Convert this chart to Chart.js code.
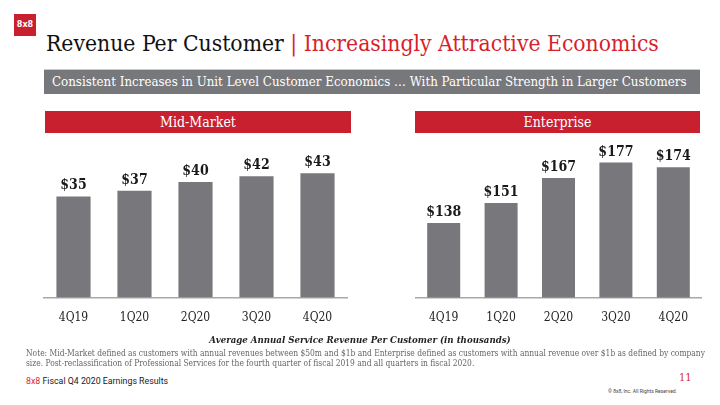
<!DOCTYPE html>
<html>
<head>
<meta charset="utf-8">
<style>
body {
	margin: 0;
	width: 720px;
	height: 405px;
	background: #fff;
	position: relative;
	overflow: hidden;
	font-family: "DejaVu Serif Condensed", "DejaVu Serif", serif;
}
.abs { position: absolute; }
.logo {
	left: 14px; top: 14px; width: 22px; height: 22px;
	background: #c8202f; color: #fff;
	font: bold 8px "DejaVu Sans", sans-serif;
	line-height: 22px; text-align: center;
}
.title {
	left: 46px; top: 30px; font-size: 22.7px; color: #111; white-space: nowrap;
}
.title span { color: #d71f2d; }
.bar-banner {
	left: 44px; top: 69px; width: 656px; height: 25px;
	background: #77787b; border-top: 1px solid #c8c8c8; box-sizing: border-box;
	color: #fff; font-size: 13.2px; line-height: 23px; padding-left: 8px; white-space: nowrap;
}
.red-banner {
	top: 111px; height: 22px; background: #c8202f; color: #fff;
	font-size: 14px; line-height: 22px; text-align: center;
}
.axis-title {
	left: 0; width: 720px; top: 334px; text-align: center;
	font-size: 9.6px; font-weight: bold; font-style: italic; color: #222;
}
.note {
	left: 26px; top: 348px; width: 692px; font-size: 8.4px; line-height: 10px; color: #666;
}
.footer {
	left: 26px; top: 376px; font: 8.8px "Roboto", sans-serif; color: #222;
}
.footer span { color: #d71f2d; }
.page { left: 679px; top: 371px; font-size: 11px; color: #d71f2d; }
.copy { left: 608px; top: 388px; font: 5px "Roboto", sans-serif; color: #444; }
</style>
<title>Revenue Per Customer</title>
<script src="https://cdn.jsdelivr.net/npm/chart.js@4.4.0/dist/chart.umd.min.js"></script>
</head>
<body>
	<div class="abs logo">8x8</div>
	<div class="abs title">Revenue Per Customer <span>| Increasingly Attractive Economics</span></div>
	<div class="abs bar-banner">Consistent Increases in Unit Level Customer Economics … With Particular Strength in Larger Customers</div>
	<div class="abs red-banner" style="left:45px;width:306px">Mid-Market</div>
	<div class="abs red-banner" style="left:415px;width:285px">Enterprise</div>

	<div class="abs" style="left:43px;top:130px;width:305px;height:208px">
		<canvas id="midChart"></canvas>
	</div>
	<div class="abs" style="left:415px;top:130px;width:287px;height:208px">
		<canvas id="entChart"></canvas>
	</div>

	<div class="abs axis-title">Average Annual Service Revenue Per Customer (in thousands)</div>
	<div class="abs note">Note: Mid-Market defined as customers with annual revenues between $50m and $1b and Enterprise defined as customers with annual revenue over $1b as defined by company size. Post-reclassification of Professional Services for the fourth quarter of fiscal 2019 and all quarters in fiscal 2020.</div>
	<div class="abs footer"><span>8x8</span> Fiscal Q4 2020 Earnings Results</div>
	<div class="abs page">11</div>
	<div class="abs copy">© 8x8, Inc. All Rights Reserved.</div>

	<script>
		var quarters = ["4Q19", "1Q20", "2Q20", "3Q20", "4Q20"];
		var midMarket = [35, 37, 40, 42, 43];
		var enterprise = [138, 151, 167, 177, 174];

		var serif = "'DejaVu Serif Condensed', 'DejaVu Serif', serif";

		var valueLabels = {
			id : "valueLabels",
			afterDatasetsDraw : function(chart) {
				var ctx = chart.ctx;
				var meta = chart.getDatasetMeta(0);
				ctx.save();
				ctx.font = "bold 14px " + serif;
				ctx.fillStyle = "#1a1a1a";
				ctx.textAlign = "center";
				ctx.textBaseline = "alphabetic";
				meta.data.forEach(function(bar, i) {
					var v = chart.data.datasets[0].data[i];
					ctx.fillText("$" + v, bar.x, bar.y - 7);
				});
				ctx.restore();
			}
		};

		function makeChart(id, values, yMin, yMax, barPct) {
			return new Chart(document.getElementById(id), {
				type : "bar",
				data : {
					labels : quarters,
					datasets : [ {
						data : values,
						backgroundColor : "#78787c",
						barPercentage : barPct,
						categoryPercentage : 1
					} ]
				},
				options : {
					responsive : true,
					maintainAspectRatio : false,
					animation : false,
					layout : { padding : 0 },
					plugins : { legend : { display : false }, tooltip : { enabled : false } },
					scales : {
						x : {
							grid : { display : false, drawTicks : false },
							border : { color : "#a8a8a8", width : 1.5 },
							ticks : { color : "#222", font : { family : serif, size : 12 }, padding : 13 }
						},
						y : {
							display : false,
							min : yMin,
							max : yMax
						}
					}
				},
				plugins : [ valueLabels ]
			});
		}

		makeChart("midChart", midMarket, 0, 58, 0.56);
		makeChart("entChart", enterprise, 90, 198, 0.575);
	</script>
</body>
</html>
